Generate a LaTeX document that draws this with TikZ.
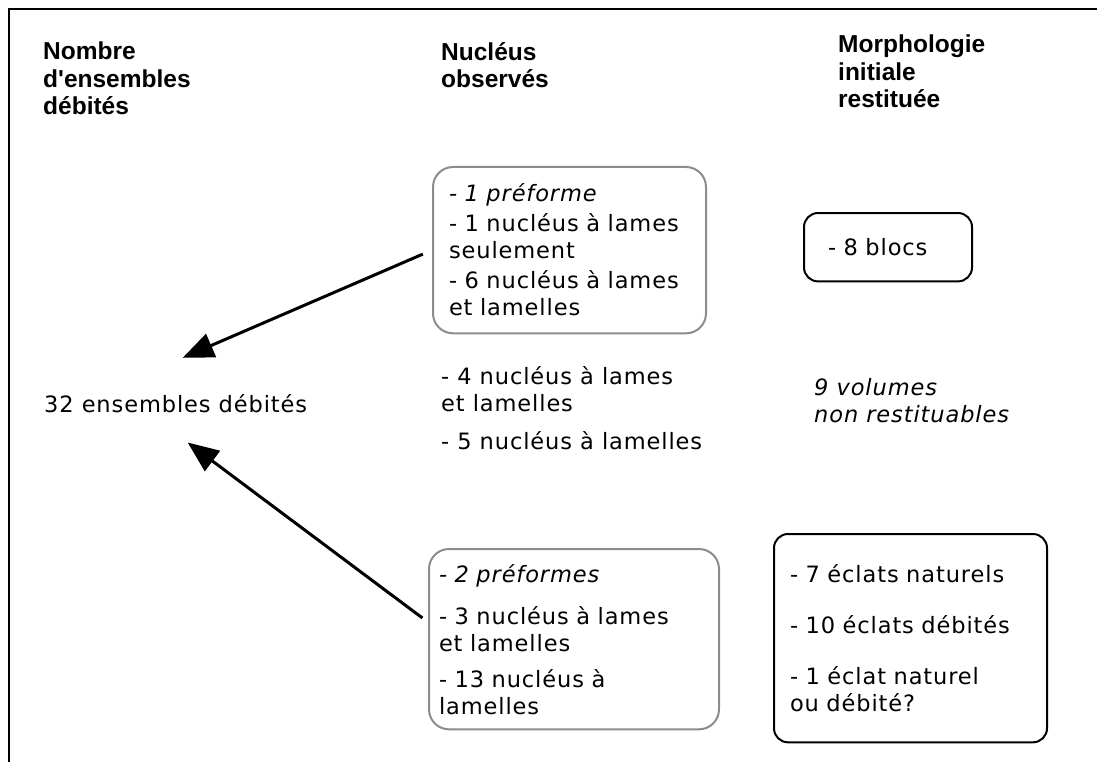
\documentclass[tikz,border=0pt]{standalone}
\usepackage{fontspec}
\setmainfont{DejaVu Sans}[LetterSpace=4]
\newfontfamily\headfont{Liberation Sans}
\usepackage{xcolor}
\usepackage{tikz}
\usetikzlibrary{arrows.meta}
\tikzset{
txt/.style={inner sep=0pt,align=left,font=\fontsize{22.5}{27}\selectfont},
head/.style={inner sep=0pt,align=left,anchor=north west,font=\headfont\bfseries\fontsize{24.5}{27.5}\selectfont},
greybox/.style={txt,draw=black!45,line width=2pt,rounded corners=20pt,anchor=north west},
blackbox/.style={txt,draw,line width=2pt,rounded corners=14pt,anchor=north west},
arr/.style={->,line width=3pt}
}
\begin{document}
\begin{tikzpicture}[x=1pt,y=-1pt,>={Triangle[length=31pt,width=25pt]}]
\useasboundingbox(0,0)rectangle(1102,762);
\draw[line width=2.5pt](9,762)--(9,9)--(1097,9);
% column heads
\node[head](hNombre)at(43,42){Nombre\\d'ensembles\\débités};
\node[head](hNucleus)at(441,42){Nucléus\\observés};
\node[head](hMorpho)at(838,35){Morphologie\\initiale\\restituée};
% left
\node[txt,anchor=base west](ens)at(44,412){32 ensembles débités};
% middle
\node[greybox,text width=241pt,inner xsep=16pt,inner ysep=17pt](nucA)at(432,166){\textit{- 1 préforme}\\[3pt]- 1 nucléus à lames\\seulement\\[3pt]- 6 nucléus à lames\\et lamelles};
\node[txt,anchor=north west](nucMid)at(441,366){- 4 nucléus à lames\\et lamelles\\[11pt]- 5 nucléus à lamelles};
\node[greybox,text width=270pt,inner xsep=10pt,inner ysep=15pt](nucB)at(428,548){\textit{- 2 préformes}\\[15pt]- 3 nucléus à lames\\et lamelles\\[9pt]- 13 nucléus à\\lamelles};
% right
\node[blackbox,text width=120pt,inner xsep=24pt,inner ysep=25.5pt](blocs)at(803,212){- 8 blocs};
\node[txt,anchor=north west](vol)at(814,378){\textit{9 volumes}\\\textit{non restituables}};
\node[blackbox,text width=241pt,inner xsep=16pt,inner ysep=30.5pt](eclats)at(773,533){- 7 éclats naturels\\[24pt]- 10 éclats débités\\[24pt]- 1 éclat naturel\\ou débité?};
% arrows
\draw[arr,shorten <=10pt](nucA.west)--([shift={(7pt,36pt)}]ens.north);
\draw[arr,shorten <=7pt]([yshift=17pt]nucB.west)--([shift={(12pt,-30pt)}]ens.south);
\end{tikzpicture}
\end{document}
